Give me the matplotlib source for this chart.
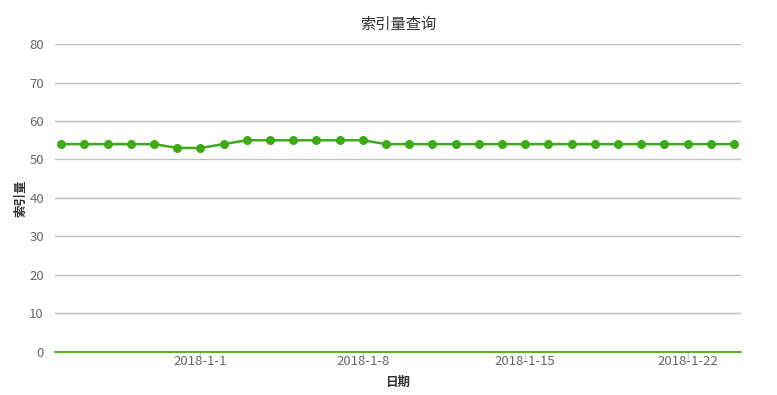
import numpy as np
import pandas as pd
import matplotlib
matplotlib.use("Agg")
import matplotlib.pyplot as plt

plt.rcParams['font.family'] = ['Noto Sans CJK SC', 'DejaVu Sans']

# data
dates = pd.date_range("2017-12-26", "2018-01-24", freq="D")
index_count = [54, 54, 54, 54, 54, 53, 53, 54, 55, 55,
               55, 55, 55, 55, 54, 54, 54, 54, 54, 54,
               54, 54, 54, 54, 54, 54, 54, 54, 54, 54]
tick_dates = ["2018-1-1", "2018-1-8", "2018-1-15", "2018-1-22"]
y_ticks = [0, 10, 20, 30, 40, 50, 60, 70, 80]

labels = [f"{d.year}-{d.month}-{d.day}" for d in dates]
x = np.arange(len(labels))
tick_pos = [labels.index(t) for t in tick_dates]

fig = plt.figure(figsize=(7.77, 3.95), dpi=100)
ax = fig.add_axes([0.0708, 0.1089, 0.8829, 0.7797])

green = '#3fa91a'
ax.plot(x, index_count, color=green, lw=1.8, marker='o', markersize=6.5,
        markeredgewidth=0, zorder=3, clip_on=False)

ax.set_ylim(0, 80)
ax.set_xlim(-0.27, len(x) - 1 + 0.3)
ax.set_yticks(y_ticks)
ax.yaxis.grid(True, color='#c0c0c0', lw=1)
ax.set_axisbelow(True)

ax.set_xticks(tick_pos)
ax.set_xticklabels(tick_dates)

for s in ['left', 'right', 'top']:
    ax.spines[s].set_visible(False)
ax.spines['bottom'].set_color('#33aa00')
ax.spines['bottom'].set_linewidth(1.2)

ax.tick_params(axis='y', length=0, pad=8, labelsize=9.5, labelcolor='#666666')
ax.tick_params(axis='x', length=5, color='#c0d0e0', width=1, pad=-3,
               labelsize=9.5, labelcolor='#666666')

ax.set_title("索引量查询", fontsize=11, color='#333333', pad=11)
ax.set_ylabel("索引量", fontsize=9, fontweight='bold', color='#333333', labelpad=1)
ax.set_xlabel("日期", fontsize=9, fontweight='bold', color='#333333', labelpad=6)

fig.savefig("out.png", dpi=100)
